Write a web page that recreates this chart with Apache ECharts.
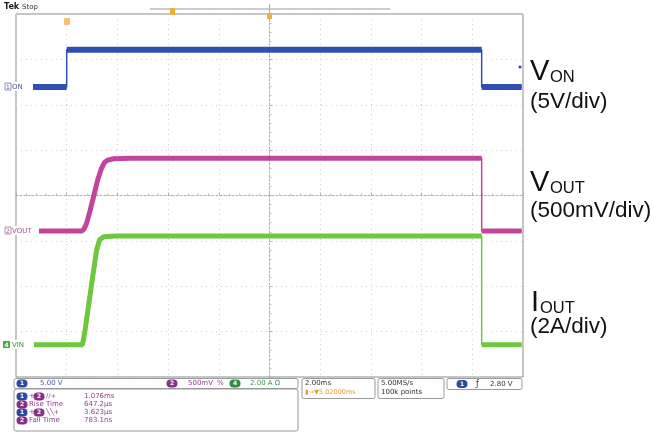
<!DOCTYPE html>
<html><head><meta charset="utf-8">
<script src="https://cdn.jsdelivr.net/npm/echarts@6/dist/echarts.min.js"></script>
<style>html,body{margin:0;padding:0;background:#fff}#c{width:652px;height:433px}</style>
</head><body><div id="c"></div>
<script>
// Times in ms relative to the trigger (CH1 rising edge)
const vonTime   = [-2.0, 0.0, 0.0, 16.37, 16.37, 17.95];
const vonVolts  = [0, 0, 4.1, 4.1, 0, 0];
const voutTime  = [-2.0, 0.60, 0.68, 0.78, 0.92, 1.08, 1.22, 1.36, 1.48, 1.62, 1.85, 2.5, 16.37, 16.371, 17.95];
const voutVolts = [0, 0, 0.02, 0.08, 0.22, 0.40, 0.56, 0.68, 0.75, 0.78, 0.795, 0.80, 0.80, 0, 0];
const ioutTime  = [-2.0, 0.62, 0.71, 0.99, 1.18, 1.30, 1.46, 1.89, 16.37, 16.371, 17.95];
const ioutAmps  = [0, 0, 0.53, 2.73, 4.18, 4.63, 4.76, 4.80, 4.80, 0, 0];

// Scope settings: scale per division and ground-marker position (divisions from centre)
const ch1 = {scale: 5,   pos: 2.39};
const ch2 = {scale: 0.5, pos: -0.78};
const ch4 = {scale: 2,   pos: -3.29};
const hPos = -8.0;              // trigger point relative to screen centre, ms
const timeTicks = [-10, 10, 2]; // min, max, interval (2 ms/div)
const divTicks  = [-4, 4, 1];

const measLabels = ['+', 'Rise Time', '+', 'Fall Time'];
const measValues = ['1.076ms', '647.2\u00b5s', '3.623\u00b5s', '783.1ns'];

function toDiv(ts, vs, ch){ return ts.map((t,i)=>[t + hPos, ch.pos + vs[i]/ch.scale]); }
// break the thick band on (near) vertical edges, so the edge is drawn only by the thin line
function thick(pts){ const out=[]; pts.forEach((p,i)=>{ if(i>0 && Math.abs(p[0]-pts[i-1][0])<0.02) out.push('-'); out.push(p); }); return out; }

const cBlue='#2f50b2', cMag='#c2449c', cGreen='#6cc83c';
const d1 = toDiv(vonTime, vonVolts, ch1), d2 = toDiv(voutTime, voutVolts, ch2), d4 = toDiv(ioutTime, ioutAmps, ch4);

function trace(name, data, color, w){
  return [
    {name, type:'line', data: data, showSymbol:false, silent:true, lineStyle:{color, width:1.5}, animation:false},
    {name, type:'line', data: thick(data), showSymbol:false, silent:true, lineStyle:{color, width:w, cap:'butt'}, animation:false}
  ];
}

const F = '"DejaVu Sans", sans-serif';
const A = '"Liberation Sans", Arial, sans-serif';
function txt(x,y,t,font,fill,align){ return {type:'text', x, y, z:100, style:{text:t, font, fill, textAlign:align||'left', textVerticalAlign:'middle'}}; }
function box(x,y,w,h){ return {type:'rect', z:90, shape:{x,y,width:w,height:h,r:2}, style:{fill:'#fff', stroke:'#9a9a9a', lineWidth:1}}; }
function badge(x,y,t,color){ return [
  {type:'rect', z:95, shape:{x:x-5.5,y:y-4,width:11,height:8,r:4}, style:{fill:color}},
  {type:'text', z:96, x:x, y:y, style:{text:t, font:'bold 6px '+F, fill:'#fff', textAlign:'center', textVerticalAlign:'middle'}}]; }

const graphic = [
  txt(4,7,'Tek','bold 8px '+F,'#1a1a1a'),
  txt(22,7,'Stop','7px '+F,'#333'),
  {type:'line', z:50, shape:{x1:150,y1:9,x2:390,y2:9}, style:{stroke:'#9a9a9a', lineWidth:1}},
  {type:'rect', z:51, shape:{x:170,y:8,width:5,height:7}, style:{fill:'#f0b040'}},
  {type:'line', z:50, shape:{x1:269.5,y1:4,x2:269.5,y2:22}, style:{stroke:'#aaa', lineWidth:1}},
  {type:'rect', z:51, shape:{x:267,y:13,width:5,height:6}, style:{fill:'#f0b040'}},
  {type:'rect', z:51, shape:{x:64,y:18,width:6,height:7,r:1}, style:{fill:'#f3c070'}},
  {type:'circle', z:51, shape:{cx:520,cy:67,r:1.6}, style:{fill:cBlue}},
  // channel ground markers
  {type:'rect', z:60, shape:{x:3,y:82,width:30,height:9}, style:{fill:'#fff'}},
  {type:'rect', z:61, shape:{x:5,y:83,width:6,height:7}, style:{fill:'#fff', stroke:'#6a7aa8', lineWidth:0.8}},
  txt(8,87,'1','6px '+F,'#4a5a90','center'), txt(12,87,'ON','7px '+F,'#4a5a90'),
  {type:'rect', z:60, shape:{x:3,y:226,width:36,height:9}, style:{fill:'#fff'}},
  {type:'rect', z:61, shape:{x:5,y:227,width:6,height:7}, style:{fill:'#fff', stroke:'#b06aa0', lineWidth:0.8}},
  txt(8,231,'2','6px '+F,'#a05090','center'), txt(12,231,'VOUT','7px '+F,'#a05090'),
  {type:'rect', z:60, shape:{x:2,y:340,width:32,height:9}, style:{fill:'#fff'}},
  {type:'rect', z:61, shape:{x:3,y:341,width:7,height:7}, style:{fill:'#4aa84a'}},
  txt(6.5,345,'4','bold 6px '+F,'#fff','center'), txt(12,345,'VIN','7px '+F,'#3a8a3a'),
  // right annotations
  txt(530,72,'V','29px '+A,'#111'), txt(550,77,'ON','16.5px '+A,'#111'), txt(530,102,'(5V/div)','22.5px '+A,'#111'),
  txt(530,182.5,'V','29px '+A,'#111'), txt(550,188,'OUT','16.5px '+A,'#111'), txt(530,211,'(500mV/div)','22.5px '+A,'#111'),
  txt(531,302.5,'I','29px '+A,'#111'), txt(540,308,'OUT','16.5px '+A,'#111'), txt(530,327,'(2A/div)','22.5px '+A,'#111'),
  // bottom info panel
  box(14,378.5,284,10), box(14,389,284,42),
  box(302,378.5,73,20), box(378,378.5,66,20), box(447,378.5,75,11),
  ...badge(22,383.5,'1','#2c4aa0'), txt(40,383.5,'5.00 V','7px '+F,'#4a5a9a'),
  ...badge(172,383.5,'2','#8a2f88'), txt(188,383.5,'500mV','7px '+F,'#8e3c8e'),
  txt(217,383.5,'\u0025','7px '+F,'#8e3c8e'),
  ...badge(235,383.5,'4','#2f8f3f'), txt(250,383.5,'2.00 A \u03a9','7px '+F,'#3a9a4a'),
  txt(305,383.5,'2.00ms','7px '+F,'#333'), txt(305,392.5,'\u25ae\u2192\u25bc5.02000ms','6.5px '+F,'#e0a040'),
  txt(381,383.5,'5.00MS/s','7px '+F,'#333'), txt(381,392.5,'100k points','7px '+F,'#333'),
  ...badge(462,384,'1','#2c4aa0'), txt(476,384,'\u0192','8px '+F,'#333'), txt(490,384,'2.80 V','7px '+F,'#333'),
];
const rowsY = [396.5, 404.5, 412.5, 420.5];
rowsY.forEach((y,i)=>{
  if(i%2===0){ graphic.push(...badge(22,y,'1','#2c4aa0'), txt(29,y,'+','7px '+F,'#8e3c8e'), ...badge(39,y,'2','#8a2f88'),
    txt(46,y, i===0 ? '\u2215\u2215+' : '\u2572\u2572+', '6.5px '+F,'#8e3c8e')); }
  else { graphic.push(...badge(22,y,'2','#8a2f88'), txt(29,y,measLabels[i],'7px '+F,'#8e3c8e')); }
  graphic.push(txt(84,y,measValues[i],'7px '+F,'#8e3c8e'));
});

const axisCommon = {
  axisLine:{onZero:true, lineStyle:{color:'#b0b0b0', type:[2,2], width:1}},
  axisTick:{show:true, inside:true, length:3, lineStyle:{color:'#b0b0b0'}},
  minorTick:{show:true, splitNumber:5, length:2, lineStyle:{color:'#c0c0c0'}},
  axisLabel:{show:false},
  splitLine:{show:true, lineStyle:{color:'#cfcfcf', type:[1,4], width:1}}
};
const chart = echarts.init(document.getElementById('c'));
chart.setOption({
  backgroundColor:'#fff',
  animation:false,
  grid:{left:16, top:14, width:507, height:363, show:true, borderColor:'#8a8a8a', borderWidth:1, backgroundColor:'#fff'},
  xAxis:Object.assign({type:'value', min:timeTicks[0], max:timeTicks[1], interval:timeTicks[2]}, axisCommon),
  yAxis:Object.assign({type:'value', min:divTicks[0], max:divTicks[1], interval:divTicks[2]}, axisCommon),
  series:[...trace('V_ON', d1, cBlue, 6), ...trace('V_OUT', d2, cMag, 5), ...trace('I_OUT', d4, cGreen, 5)],
  graphic
});
</script></body></html>
